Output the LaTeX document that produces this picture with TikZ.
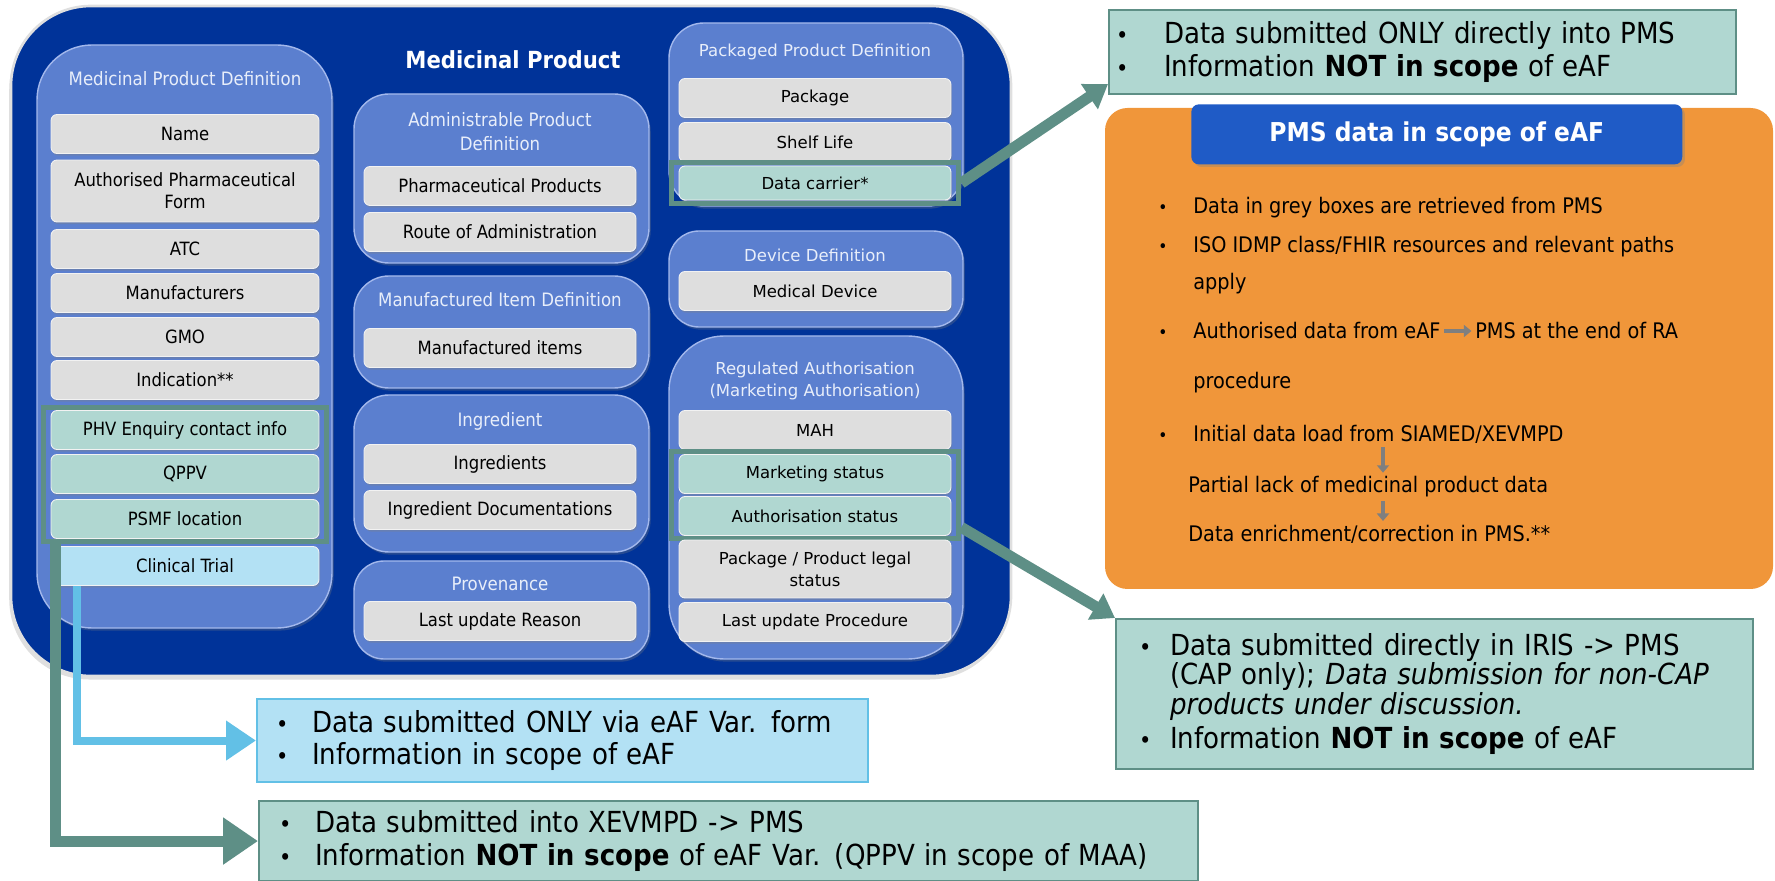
\documentclass[tikz,border=0pt]{standalone}
\usepackage{fontspec}
\setmainfont{DejaVu Sans Condensed}
\newfontfamily\verdfont{DejaVu Sans}
\usetikzlibrary{arrows.meta,positioning,fit,shadows,calc}

\definecolor{mpblue}{HTML}{003399}
\definecolor{panelblue}{HTML}{5B7FCF}
\definecolor{panelline}{HTML}{A3B8EC}
\definecolor{titletext}{HTML}{E8EEFA}
\definecolor{itemgrey}{HTML}{DEDEDE}
\definecolor{tealfill}{HTML}{B0D7D1}
\definecolor{tealline}{HTML}{5E8F86}
\definecolor{ctfill}{HTML}{B3E1F4}
\definecolor{ctline}{HTML}{62C0E6}
\definecolor{pmsorange}{HTML}{F0963A}
\definecolor{pmsbar}{HTML}{1F5BC6}
\definecolor{arrgrey}{HTML}{7F7F7F}

\newcommand{\bul}[1]{\makebox[#1][l]{\scalebox{0.8}{\textbullet}}}

\tikzset{
  mpbox/.style={fill=mpblue, draw=gray!25, line width=1.5pt, rounded corners=1.6cm,
    drop shadow={opacity=0.25, shadow xshift=-1pt, shadow yshift=-2pt}},
  panel/.style={fill=panelblue, draw=panelline, line width=0.8pt,
    drop shadow={opacity=0.3, shadow xshift=1pt, shadow yshift=-1.5pt}},
  ptitle/.style={text=titletext, align=center, inner sep=0pt,
    font=\fontsize{10.5}{13.6}\selectfont},
  rtitle/.style={ptitle, font=\verdfont\fontsize{9.4}{13}\selectfont},
  attr/.style={fill=itemgrey, draw=white!60!itemgrey, line width=0.5pt, rounded corners=0.12cm,
    minimum width=5.36cm, minimum height=0.78cm, align=center, inner sep=1pt,
    font=\fontsize{10.4}{12.5}\selectfont,
    drop shadow={opacity=0.35, shadow xshift=0.6pt, shadow yshift=-1.2pt}},
  mattr/.style={attr, minimum width=5.44cm},
  rattr/.style={attr, minimum width=5.44cm, font=\verdfont\fontsize{9.4}{12.5}\selectfont},
  tealattr/.style={fill=tealfill},
  ctattr/.style={fill=ctfill},
  grpframe/.style={draw=tealline, line width=2.8pt, inner xsep=0.15cm, inner ysep=0.06cm},
  note/.style={anchor=north west, align=left, font=\fontsize{16.5}{18.5}\selectfont},
  tealnote/.style={note, fill=tealfill, draw=tealline, line width=1.2pt},
  ctnote/.style={note, fill=ctfill, draw=ctline, line width=1.2pt},
  otext/.style={anchor=west, inner sep=0pt, font=\fontsize{12.2}{14}\selectfont},
  diagarrow/.style={draw=tealline, line width=0.22cm, -{Triangle[width=0.58cm,length=0.45cm]}},
  bigarrow/.style={draw=tealline, line width=0.22cm, -{Triangle[width=0.9cm,length=0.7cm]}},
  ctarrow/.style={draw=ctline, line width=0.16cm, -{Triangle[width=0.76cm,length=0.6cm]}},
  grarrow/.style={draw=arrgrey, line width=0.08cm, shorten <=2pt, shorten >=2pt,
    -{Triangle[width=0.24cm,length=0.15cm]}}
}

\begin{document}
\begin{tikzpicture}[x=0.02cm, y=-0.02cm]
\useasboundingbox (0,0) rectangle (1775,881);

\draw[mpbox] (11,6) rectangle (1011,676);
\node[text=white, inner sep=0pt, font=\bfseries\fontsize{13.4}{15}\selectfont] (mptitle) at (513,60) {Medicinal Product};

\draw[panel, rounded corners=1.1cm] (37,45) rectangle (332,628);
\draw[panel, rounded corners=0.7cm] (354,94) rectangle (649,263);
\draw[panel, rounded corners=0.7cm] (354,276) rectangle (649,388);
\draw[panel, rounded corners=0.7cm] (354,395) rectangle (649,552);
\draw[panel, rounded corners=0.6cm] (354,561) rectangle (649,659);
\draw[panel, rounded corners=0.7cm] (669,23) rectangle (963,206);
\draw[panel, rounded corners=0.6cm] (669,231) rectangle (963,327);
\draw[panel, rounded corners=1.1cm] (669,336) rectangle (963,659);

\node[ptitle] (mpdtitle) at (185,79) {Medicinal Product Definition};
\node[attr] (name) at (185,134) {Name};
\node[attr, minimum height=1.24cm] (apf) at (185,191) {Authorised Pharmaceutical\\Form};
\node[attr] (atc) at (185,249) {ATC};
\node[attr] (manuf) at (185,293) {Manufacturers};
\node[attr] (gmo) at (185,337) {GMO};
\node[attr] (indic) at (185,380) {Indication**};
\node[attr, tealattr] (phv) at (185,430) {PHV Enquiry contact info};
\node[attr, tealattr] (qppv) at (185,474) {QPPV};
\node[attr, tealattr] (psmf) at (185,519) {PSMF location};
\node[attr, ctattr] (ctrial) at (185,566) {Clinical Trial};
\node[grpframe, fit=(phv)(psmf)] (grpL) {};

\node[ptitle] (admtitle) at (500,132) {Administrable Product\\Definition};
\node[mattr] (pharm) at (500,186) {Pharmaceutical Products};
\node[mattr] (route) at (500,232) {Route of Administration};
\node[ptitle] (mantitle) at (500,300) {Manufactured Item Definition};
\node[mattr] (mitems) at (500,348) {Manufactured items};
\node[ptitle] (ingtitle) at (500,421) {Ingredient};
\node[mattr] (ingr) at (500,464) {Ingredients};
\node[mattr] (ingdoc) at (500,510) {Ingredient Documentations};
\node[ptitle] (provtitle) at (500,584) {Provenance};
\node[mattr] (lureason) at (500,621) {Last update Reason};

\node[rtitle] (pkgtitle) at (815,52) {Packaged Product Definition};
\node[rattr] (pkg) at (815,98) {Package};
\node[rattr] (shelf) at (815,142) {Shelf Life};
\node[rattr, tealattr, minimum height=0.68cm] (dcarrier) at (815,183) {Data carrier*};
\node[grpframe, fit=(dcarrier)] (grpDC) {};
\node[rtitle] (devtitle) at (815,255) {Device Definition};
\node[rattr] (meddev) at (815,291) {Medical Device};
\node[rtitle] (ratitle) at (815,381) {Regulated Authorisation\\(Marketing Authorisation)};
\node[rattr] (mah) at (815,430) {MAH};
\node[rattr, tealattr] (mstatus) at (815,474) {Marketing status};
\node[rattr, tealattr] (astatus) at (815,516) {Authorisation status};
\node[grpframe, fit=(mstatus)(astatus)] (grpMA) {};
\node[rattr, minimum height=1.16cm] (legal) at (815,569) {Package / Product legal\\status};
\node[rattr] (luproc) at (815,622) {Last update Procedure};

\node[tealnote, inner xsep=0.14cm, text width=12.26cm, minimum height=1.68cm] (scopeA) at (1108,9)
  {\bul{0.96cm}Data submitted ONLY directly into PMS\\
   \bul{0.96cm}Information \textbf{NOT in scope} of eAF};

\fill[pmsorange, rounded corners=0.45cm] (1105,108) rectangle (1773,589);
\node[anchor=north west, fill=pmsbar, rounded corners=0.15cm, minimum width=9.82cm, minimum height=1.2cm,
  text=white, font=\bfseries\fontsize{14.8}{16}\selectfont,
  drop shadow={opacity=0.35, shadow xshift=1.5pt, shadow yshift=-1.5pt}] (pmstitle) at (1191,104) {PMS data in scope of eAF};
\node[otext] (o1) at (1158,208) {\bul{0.7cm}Data in grey boxes are retrieved from PMS};
\node[otext] (o2) at (1158,247) {\bul{0.7cm}ISO IDMP class/FHIR resources and relevant paths};
\node[otext] (o2b) at (1193,284) {apply};
\node[otext] (o3) at (1158,331) {\bul{0.7cm}Authorised data from eAF};
\node[otext, right=0.68cm of o3] (o3b) {PMS at the end of RA};
\node[otext] (o3c) at (1193,383) {procedure};
\node[otext] (o4) at (1158,434) {\bul{0.7cm}Initial data load from SIAMED/XEVMPD};
\node[otext] (o5) at (1188,487) {Partial lack of medicinal product data};
\node[otext] (o6) at (1188,534) {Data enrichment/correction in PMS.**};
\coordinate (odown) at (1383,0);
\draw[grarrow] (o3) -- (o3b);
\draw[grarrow] (o4.south -| odown) -- (o5.north -| odown);
\draw[grarrow] (o5.south -| odown) -- (o6.north -| odown);

\node[tealnote, inner xsep=0.46cm, text width=11.82cm, minimum height=3cm,
  font=\fontsize{16.5}{16.8}\selectfont] (scopeB) at (1115,618)
  {\bul{0.62cm}Data submitted directly in IRIS -> PMS\\
   \hspace*{0.62cm}(CAP only); \textit{Data submission for non-CAP}\\
   \hspace*{0.62cm}\textit{products under discussion.}\\[3pt]
   \bul{0.62cm}Information \textbf{NOT in scope} of eAF};

\node[ctnote, inner xsep=0.38cm, text width=11.46cm, minimum height=1.66cm] (scopeC) at (256,698)
  {\bul{0.72cm}Data submitted ONLY via eAF Var. form\\
   \bul{0.72cm}Information in scope of eAF};

\node[tealnote, inner xsep=0.4cm, text width=17.98cm, minimum height=1.6cm] (scopeD) at (258,800)
  {\bul{0.72cm}Data submitted into XEVMPD -> PMS\\
   \bul{0.72cm}Information \textbf{NOT in scope} of eAF Var. (QPPV in scope of MAA)};

\draw[diagarrow] (grpDC.east) -- ($(scopeA.south west)+(0,-11)$);
\draw[diagarrow] ($(grpMA.south east)+(0,-14)$) -- (scopeB.north west);
\draw[ctarrow] ($(ctrial.south west)+(26,0)$) |- (scopeC.west);
\draw[bigarrow] ($(grpL.south west)+(15,0)$) |- (scopeD.west);
\end{tikzpicture}
\end{document}
